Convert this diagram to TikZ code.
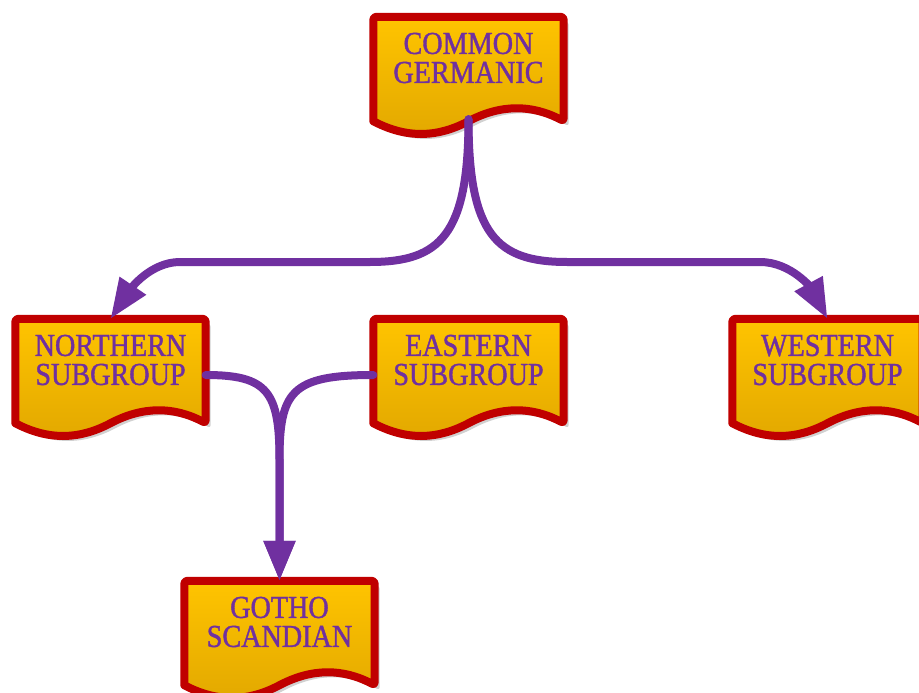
\documentclass[tikz,border=0pt]{standalone}
\usepackage{fontspec}
\setmainfont{Liberation Serif}[FakeStretch=0.88, FakeBold=1.2]
\usetikzlibrary{arrows.meta,calc,backgrounds}
\definecolor{gold}{HTML}{FFC400}
\definecolor{golddark}{HTML}{E2A800}
\definecolor{borderred}{HTML}{C00000}
\definecolor{grape}{HTML}{7030A0}

\begin{document}
\begin{tikzpicture}[x=1pt,y=-1pt,
        docbox/.style={minimum width=190pt, minimum height=82pt, inner sep=0pt,
            align=center, text=grape, font=\fontsize{32}{29}\selectfont},
        docshape/.style={draw=borderred, line width=8pt, line join=round,
            top color=gold, bottom color=golddark},
        docshadow/.style={fill=black!18, transform canvas={xshift=5pt, yshift=-5pt}},
        link/.style={grape, line width=8pt, line cap=round,
            -{Triangle[length=40pt, width=30pt]}}]
        \useasboundingbox (0,0) rectangle (919,693);
        % nodos
        \node[docbox] (cg) at (468.5,58) {COMMON\\GERMANIC};
        \node[docbox] (ns) at (110.5,360) {NORTHERN\\SUBGROUP};
        \node[docbox] (es) at (468.5,360) {EASTERN\\SUBGROUP};
        \node[docbox] (ws) at (827.5,360) {WESTERN\\SUBGROUP};
        \node[docbox] (gs) at (279.5,622) {GOTHO\\SCANDIAN};
        % forma de documento con borde ondulado
        \begin{scope}[on background layer]
            \foreach \n in {cg,ns,es,ws,gs} {
                \foreach \s in {docshadow,docshape}
                    \path[\s, rounded corners=3pt] (\n.south west) -- (\n.north west) -- (\n.north east)
                        -- ($(\n.south east)+(0,22)$) [sharp corners]
                        .. controls ($(\n.south east)+(-32,5)$) and ($(\n.south east)+(-63,5)$) .. ($(\n.south)+(0,22)$)
                        .. controls ($(\n.south)+(-32,39)$) and ($(\n.south)+(-63,39)$) .. ($(\n.south west)+(0,22)$)
                        -- cycle;
            }
        \end{scope}
        % flechas
        \draw[link] ($(cg.south)+(0,20)$) .. controls (468.5,235) and (440,262) .. (370,262)
            -- (180,262) .. controls (150,262) and (130,290) .. (ns.north);
        \draw[link] ($(cg.south)+(0,20)$) .. controls (468.5,235) and (497,262) .. (567,262)
            -- (760,262) .. controls (792,262) and (812,290) .. (ws.north);
        \draw[link] ($(ns.east)+(0,15)$) .. controls (268,375) and (279.5,392) .. (279.5,460)
            -- (gs.north);
        \draw[link] ($(es.west)+(0,15)$) .. controls (291,375) and (279.5,392) .. (279.5,460)
            -- (gs.north);
\end{tikzpicture}
\end{document}
